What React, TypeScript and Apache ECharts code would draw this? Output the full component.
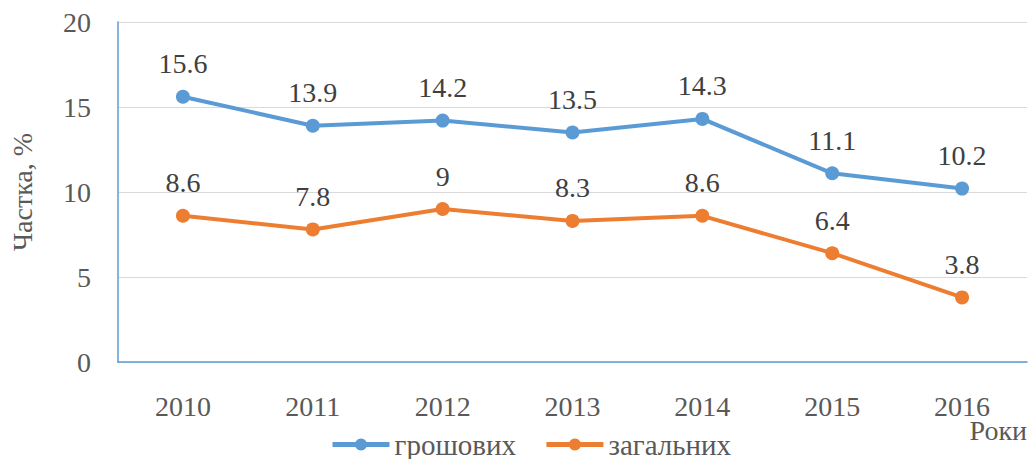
import React, { useEffect, useRef } from "react";
import * as echarts from "echarts";

const years = ["2010", "2011", "2012", "2013", "2014", "2015", "2016"];
const cashValues = [15.6, 13.9, 14.2, 13.5, 14.3, 11.1, 10.2];
const totalValues = [8.6, 7.8, 9, 8.3, 8.6, 6.4, 3.8];
const seriesNames = ["грошових", "загальних"];
const yAxisTitle = "Частка, %";
const xAxisTitle = "Роки";

const FONT = "Liberation Serif";

export default function App() {
  const ref = useRef<HTMLDivElement>(null);
  useEffect(() => {
    if (!ref.current) return;
    const chart = echarts.init(ref.current, undefined, { renderer: "svg" });
    const label = {
      show: true,
      position: "top",
      distance: 12,
      fontFamily: FONT,
      fontSize: 28,
      color: "#404040",
    };
    chart.setOption({
      animation: false,
      textStyle: { fontFamily: FONT },
      grid: { left: 117, right: 2, top: 22, bottom: 97, containLabel: false },
      legend: {
        top: 430,
        left: 330,
        padding: 0,
        itemWidth: 57,
        itemHeight: 15,
        itemGap: 28,
        lineStyle: { width: 5 },
        textStyle: { fontFamily: FONT, fontSize: 29, color: "#595959" },
        data: seriesNames,
      },
      xAxis: {
        type: "category",
        data: years,
        boundaryGap: true,
        axisLine: { show: true, lineStyle: { color: "#5B9BD5", width: 1.5 } },
        axisTick: { show: false },
        axisLabel: { margin: 30, fontFamily: FONT, fontSize: 28, color: "#595959" },
      },
      yAxis: {
        type: "value",
        min: 0,
        max: 20,
        interval: 5,
        name: yAxisTitle,
        nameLocation: "middle",
        nameRotate: 90,
        nameGap: 82,
        nameTextStyle: { fontFamily: FONT, fontSize: 28, color: "#595959" },
        axisLine: { show: true, lineStyle: { color: "#5B9BD5", width: 1.5 } },
        axisTick: { show: false },
        splitLine: { show: true, lineStyle: { color: "#D9D9D9", width: 1 } },
        axisLabel: { margin: 27, fontFamily: FONT, fontSize: 28, color: "#595959" },
      },
      graphic: [
        {
          type: "text",
          right: 2,
          top: 416,
          style: {
            text: xAxisTitle,
            fontFamily: FONT,
            fontSize: 28,
            fill: "#595959",
          },
        },
      ],
      series: [
        {
          name: seriesNames[0],
          type: "line",
          data: cashValues,
          symbol: "circle",
          symbolSize: 14,
          lineStyle: { color: "#5B9BD5", width: 4 },
          itemStyle: { color: "#5B9BD5" },
          label,
        },
        {
          name: seriesNames[1],
          type: "line",
          data: totalValues,
          symbol: "circle",
          symbolSize: 14,
          lineStyle: { color: "#ED7D31", width: 4 },
          itemStyle: { color: "#ED7D31" },
          label,
        },
      ],
    });
    return () => chart.dispose();
  }, []);
  return (
    <div
      ref={ref}
      style={{ position: "absolute", left: 0, top: 0, width: 1029, height: 459 }}
    />
  );
}
